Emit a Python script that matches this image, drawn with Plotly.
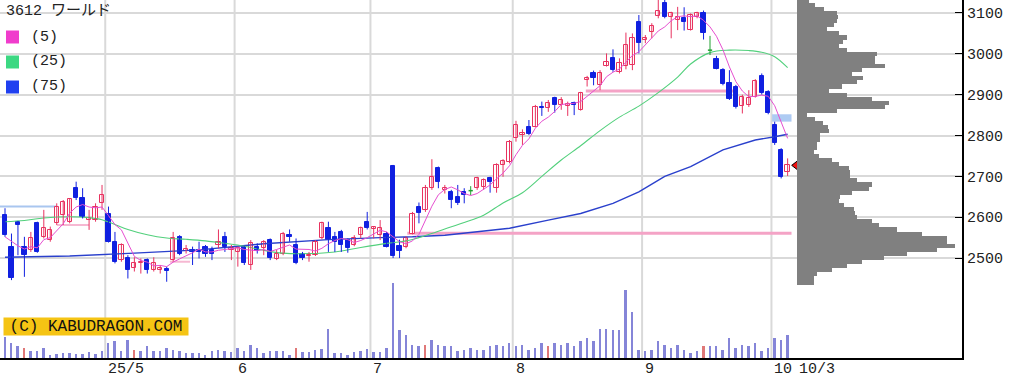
import plotly.graph_objects as go

# ---------------- data ----------------
title_text = "3612 ワールド"
ma_labels = ["(5)", "(25)", "(75)"]
month_start_idx = [16, 36, 57, 79, 99, 119]
month_labels = ["25/5", "6", "7", "8", "9", "10"]
last_label = "10/3"

opens = [2605, 2528, 2589, 2528, 2520, 2585, 2552, 2544, 2585, 2605,
         2589, 2671, 2646, 2593, 2593, 2634, 2609, 2540, 2495, 2499,
         2475, 2487, 2495, 2471, 2471, 2472, 2495, 2552, 2518, 2520,
         2520, 2526, 2520, 2532, 2552, 2520, 2516, 2528, 2483, 2528,
         2524, 2544, 2497, 2511, 2556, 2532, 2511, 2505, 2507, 2548,
         2573, 2552, 2564, 2544, 2532, 2556, 2589, 2570, 2556, 2560,
         2726, 2530, 2528, 2560, 2626, 2617, 2671, 2720, 2667, 2662,
         2650, 2662, 2665, 2671, 2673, 2695, 2671, 2728, 2736, 2793,
         2801, 2820, 2822, 2871, 2867, 2891, 2875, 2873, 2880, 2863,
         2936, 2954, 2924, 2969, 2989, 2956, 2969, 2973, 3079, 3035,
         3054, 3093, 3124, 3091, 3084, 3087, 3058, 3091, 3101, 3009,
         2987, 2960, 2928, 2920, 2873, 2874, 2895, 2946, 2907, 2826,
         2765, 2710]
highs = [2622, 2560, 2591, 2552, 2564, 2589, 2618, 2577, 2634, 2642,
         2646, 2687, 2671, 2618, 2634, 2679, 2626, 2564, 2536, 2507,
         2502, 2499, 2499, 2502, 2483, 2479, 2564, 2556, 2532, 2528,
         2540, 2532, 2528, 2570, 2564, 2532, 2528, 2529, 2544, 2536,
         2544, 2548, 2520, 2564, 2570, 2548, 2515, 2515, 2544, 2589,
         2589, 2564, 2569, 2548, 2556, 2577, 2613, 2578, 2593, 2564,
         2728, 2545, 2553, 2613, 2636, 2679, 2742, 2724, 2679, 2667,
         2679, 2671, 2676, 2699, 2695, 2699, 2732, 2742, 2789, 2836,
         2815, 2838, 2875, 2883, 2887, 2895, 2894, 2883, 2883, 2907,
         2946, 2959, 2960, 3001, 3011, 2989, 3052, 3050, 3095, 3046,
         3075, 3132, 3135, 3103, 3115, 3114, 3099, 3103, 3106, 3044,
         2995, 2965, 2960, 2924, 2900, 2911, 2938, 2952, 2911, 2834,
         2769, 2744]
lows = [2552, 2446, 2507, 2454, 2515, 2513, 2548, 2540, 2581, 2581,
        2585, 2642, 2597, 2569, 2589, 2618, 2538, 2487, 2491, 2450,
        2467, 2462, 2462, 2467, 2462, 2442, 2491, 2507, 2511, 2483,
        2499, 2503, 2495, 2524, 2515, 2495, 2479, 2483, 2471, 2511,
        2507, 2495, 2495, 2507, 2540, 2485, 2495, 2491, 2505, 2546,
        2515, 2515, 2515, 2513, 2529, 2548, 2570, 2548, 2544, 2526,
        2500, 2500, 2524, 2558, 2585, 2613, 2667, 2671, 2658, 2622,
        2630, 2634, 2654, 2667, 2667, 2660, 2660, 2699, 2732, 2785,
        2777, 2801, 2820, 2848, 2858, 2856, 2863, 2848, 2850, 2861,
        2920, 2923, 2911, 2969, 2956, 2952, 2962, 2960, 3001, 3026,
        3038, 3087, 3087, 3038, 3058, 3057, 3057, 3087, 3035, 2997,
        2962, 2923, 2887, 2866, 2854, 2870, 2893, 2900, 2852, 2777,
        2695, 2701]
closes = [2556, 2450, 2581, 2507, 2548, 2516, 2573, 2569, 2626, 2638,
          2644, 2646, 2601, 2597, 2626, 2654, 2540, 2491, 2532, 2471,
          2487, 2491, 2471, 2487, 2475, 2469, 2548, 2511, 2521, 2516,
          2516, 2511, 2511, 2540, 2528, 2524, 2524, 2487, 2536, 2518,
          2540, 2499, 2511, 2560, 2552, 2487, 2499, 2507, 2540, 2585,
          2544, 2540, 2532, 2524, 2548, 2573, 2573, 2575, 2573, 2528,
          2506, 2518, 2548, 2609, 2610, 2671, 2699, 2687, 2671, 2642,
          2634, 2654, 2665, 2697, 2691, 2687, 2728, 2738, 2785, 2826,
          2805, 2804, 2871, 2867, 2879, 2875, 2887, 2877, 2875, 2903,
          2940, 2942, 2952, 2981, 2960, 2978, 3022, 3038, 3026, 3040,
          3068, 3106, 3091, 3101, 3089, 3079, 3095, 3099, 3050, 3009,
          2964, 2926, 2890, 2871, 2895, 2891, 2934, 2905, 2854, 2781,
          2699, 2727]

ma5 = [2552, 2540, 2530, 2522, 2528, 2525, 2545, 2550, 2566, 2584,
       2610, 2625, 2631, 2625, 2623, 2625, 2604, 2582, 2569, 2538,
       2504, 2494, 2490, 2481, 2482, 2479, 2490, 2498, 2505, 2513,
       2522, 2515, 2515, 2519, 2521, 2523, 2525, 2521, 2520, 2518,
       2521, 2516, 2521, 2526, 2532, 2522, 2522, 2521, 2517, 2524,
       2535, 2543, 2548, 2545, 2538, 2543, 2550, 2559, 2568, 2564,
       2551, 2540, 2535, 2542, 2558, 2591, 2627, 2655, 2668, 2674,
       2667, 2658, 2653, 2658, 2668, 2679, 2694, 2708, 2726, 2753,
       2776, 2792, 2818, 2835, 2845, 2859, 2876, 2877, 2879, 2883,
       2896, 2907, 2922, 2944, 2955, 2963, 2979, 2996, 3005, 3021,
       3039, 3056, 3066, 3081, 3091, 3093, 3091, 3093, 3082, 3066,
       3043, 3010, 2968, 2932, 2909, 2895, 2896, 2899, 2896, 2873,
       2835, 2793]

ma25_idx = [0, 3, 6, 10, 13, 15, 17, 19, 22, 25, 28, 31, 34, 37, 40, 43, 47,
            51, 55, 59, 62, 65, 68, 71, 74, 77, 80, 83, 86, 89, 92, 95, 98,
            101, 104, 106, 109, 112, 115, 117, 119, 121]
ma25_val = [2589, 2592, 2598, 2601, 2599, 2594, 2582, 2570, 2557, 2549, 2546,
            2542, 2536, 2529, 2519, 2512, 2511, 2515, 2526, 2536, 2542, 2555,
            2571, 2587, 2605, 2635, 2660, 2700, 2740, 2775, 2812, 2845, 2872,
            2905, 2943, 2975, 3003, 3009, 3008, 3004, 2993, 2966]

ma75_idx = [0, 10, 20, 30, 40, 50, 58, 63, 68, 73, 78, 84, 89, 94, 98, 102,
            106, 111, 116, 119, 121]
ma75_val = [2502, 2505, 2512, 2520, 2535, 2545, 2550, 2552, 2556, 2564, 2573,
            2593, 2609, 2634, 2662, 2700, 2724, 2765, 2789, 2797, 2803]

volumes = [210, 150, 120, 100, 73, 73, 100, 33, 43, 50,
           50, 43, 43, 57, 43, 73, 150, 167, 73, 183,
           83, 73, 117, 73, 73, 100, 83, 73, 50, 50,
           50, 33, 73, 83, 73, 57, 100, 73, 133, 100,
           50, 73, 73, 73, 33, 100, 57, 57, 83, 90,
           290, 50, 50, 33, 57, 67, 90, 57, 57, 100,
           750, 277, 227, 130, 117, 130, 177, 130, 117, 117,
           67, 83, 100, 83, 83, 117, 130, 117, 150, 117,
           130, 83, 100, 150, 117, 150, 130, 150, 117, 167,
           197, 167, 290, 290, 277, 277, 683, 457, 83, 67,
           83, 167, 130, 100, 130, 83, 50, 67, 117, 117,
           117, 83, 197, 100, 130, 117, 150, 67, 100, 197,
           183, 233]
red_volume_days = [3, 20, 45, 65, 84, 108]

profile_price = [2440, 2450, 2460, 2470, 2480, 2490, 2500, 2510, 2520, 2530,
                 2540, 2550, 2560, 2570, 2580, 2590, 2600, 2610, 2620, 2630,
                 2640, 2650, 2660, 2670, 2680, 2690, 2700, 2710, 2720, 2730,
                 2740, 2750, 2760, 2770, 2780, 2790, 2800, 2810, 2820, 2830,
                 2840, 2850, 2860, 2870, 2880, 2890, 2900, 2910, 2920, 2930,
                 2940, 2950, 2960, 2970, 2980, 2990, 3000, 3010, 3020, 3030,
                 3040, 3050, 3060, 3070, 3080, 3090, 3100, 3110, 3120, 3130]
profile_volume = [17, 17, 20, 35, 50, 65, 87, 110, 140, 158,
                  150, 150, 125, 100, 82, 75, 60, 58, 57, 47,
                  42, 43, 55, 72, 75, 60, 53, 53, 52, 42,
                  35, 22, 17, 20, 20, 23, 23, 32, 31, 26,
                  18, 10, 40, 88, 92, 75, 50, 32, 45, 60,
                  66, 55, 65, 88, 78, 78, 80, 50, 42, 46,
                  50, 42, 30, 37, 40, 41, 40, 27, 18, 12]

# support / resistance levels: (price, from index, to index)
pink_levels = [2909, 2561]
pink_from = [89.8, 62.2]
pink_to = [112.8, 121.6]
faint_pink_levels = [2581, 2491]
faint_pink_from = [8.0, 25.5]
faint_pink_to = [13.0, 28.6]
blue_levels = [2626]
blue_from = [-0.8]
blue_to = [8.0]

# ---------------- styling ----------------
RED = "#e8325f"
BLUE = "#1020e0"
GREEN = "#20a030"
C5 = "#e64fd0"
C25 = "#52d07c"
C75 = "#2a40cc"
GRID = "#d9d9d9"
FONT = "Liberation Mono, DejaVu Sans Mono, Noto Sans CJK JP, monospace"

W, H = 1029, 377
L, R, T, B = 0, 67, 0, 19
PW, PH = W - L - R, H - T - B
N = len(closes)

fig = go.Figure()

# volume profile (right side)
fig.add_trace(go.Bar(
    y=profile_price, x=profile_volume, orientation="h", width=10,
    marker=dict(color="#808080", line=dict(width=0)),
    xaxis="x2", yaxis="y", hoverinfo="skip", showlegend=False))

# volume bars
vol_colors = ["#e07878" if i in red_volume_days else "#8585d8" for i in range(N)]
fig.add_trace(go.Bar(
    x=list(range(N)), y=volumes, width=0.3,
    marker=dict(color=vol_colors, line=dict(width=0)),
    yaxis="y2", hoverinfo="skip", showlegend=False))

# moving averages
fig.add_trace(go.Scatter(x=ma75_idx, y=ma75_val, mode="lines",
                         line=dict(color=C75, width=1.4), hoverinfo="skip", showlegend=False))
fig.add_trace(go.Scatter(x=ma25_idx, y=ma25_val, mode="lines", line_shape="spline",
                         line=dict(color=C25, width=1.1), hoverinfo="skip", showlegend=False))

# wicks
def wick_trace(idx, color):
    xs, ys = [], []
    for i in idx:
        xs += [i, i, None]
        ys += [lows[i], highs[i], None]
    return go.Scatter(x=xs, y=ys, mode="lines", line=dict(color=color, width=1),
                      hoverinfo="skip", showlegend=False)

up = [i for i in range(N) if closes[i] > opens[i]]
dn = [i for i in range(N) if closes[i] < opens[i]]
dj = [i for i in range(N) if closes[i] == opens[i]]

fig.add_trace(wick_trace(up, RED))
fig.add_trace(wick_trace(dn, BLUE))
fig.add_trace(wick_trace(dj, GREEN))

BW = 0.66
fig.add_trace(go.Bar(
    x=up, base=[opens[i] for i in up], y=[closes[i] - opens[i] for i in up],
    width=BW, marker=dict(color="white", line=dict(color=RED, width=1)),
    hoverinfo="skip", showlegend=False))
fig.add_trace(go.Bar(
    x=dn, base=[closes[i] for i in dn], y=[opens[i] - closes[i] for i in dn],
    width=BW, marker=dict(color=BLUE, line=dict(color=BLUE, width=1)),
    hoverinfo="skip", showlegend=False))
dx, dy = [], []
for i in dj:
    dx += [i - BW / 2, i + BW / 2, None]
    dy += [opens[i], opens[i], None]
fig.add_trace(go.Scatter(x=dx, y=dy, mode="lines", line=dict(color=GREEN, width=1.5),
                         hoverinfo="skip", showlegend=False))

# 5-day MA on top
fig.add_trace(go.Scatter(x=list(range(N)), y=ma5, mode="lines",
                         line=dict(color=C5, width=1), hoverinfo="skip", showlegend=False))

# current price marker
fig.add_trace(go.Scatter(x=[N + 0.4], y=[closes[-1]], mode="markers",
                         marker=dict(symbol="triangle-left", size=10, color="#f01010",
                                     line=dict(color="black", width=1)),
                         hoverinfo="skip", showlegend=False))

shapes = []
# white boxes behind title / legend
shapes.append(dict(type="rect", xref="paper", yref="paper", x0=0, x1=137 / PW,
                   y0=1 - 24 / PH, y1=1, fillcolor="white", line=dict(width=0), layer="below"))
shapes.append(dict(type="rect", xref="paper", yref="paper", x0=0, x1=73 / PW,
                   y0=1 - 92 / PH, y1=1 - 24 / PH, fillcolor="white", line=dict(width=0), layer="below"))
# vertical month grid lines
for m in month_start_idx:
    shapes.append(dict(type="line", xref="x", yref="paper", x0=m - 0.5, x1=m - 0.5,
                       y0=0, y1=1, line=dict(color=GRID, width=2), layer="below"))
# level lines
for lv, a, b in zip(pink_levels, pink_from, pink_to):
    shapes.append(dict(type="line", xref="x", yref="y", x0=a, x1=b, y0=lv, y1=lv,
                       line=dict(color="#f4a3c6", width=3), layer="below"))
for lv, a, b in zip(faint_pink_levels, faint_pink_from, faint_pink_to):
    shapes.append(dict(type="line", xref="x", yref="y", x0=a, x1=b, y0=lv, y1=lv,
                       line=dict(color="#f6b8d2", width=2), layer="below"))
for lv, a, b in zip(blue_levels, blue_from, blue_to):
    shapes.append(dict(type="line", xref="x", yref="y", x0=a, x1=b, y0=lv, y1=lv,
                       line=dict(color="#a9c6ef", width=2), layer="below"))
# price gap (window)
shapes.append(dict(type="rect", xref="x", yref="y", x0=N - 3.4, x1=N - 0.4,
                   y0=highs[N - 3], y1=lows[N - 4], fillcolor="#aecbf3",
                   line=dict(width=0), layer="below"))
# legend squares
legend_colors = ["#f03ccc", "#3cd882", "#2040f0"]
for k, col in enumerate(legend_colors):
    yc = 37 + 25 * k
    shapes.append(dict(type="rect", xref="paper", yref="paper",
                       x0=6 / PW, x1=19 / PW, y0=1 - (yc + 6.5) / PH, y1=1 - (yc - 6.5) / PH,
                       fillcolor=col, line=dict(width=0), layer="above"))

annotations = []
annotations.append(dict(text=title_text, xref="paper", yref="paper", x=4 / PW, y=1 - 12 / PH,
                        xanchor="left", yanchor="middle", showarrow=False,
                        font=dict(family=FONT, size=15, color="#222")))
for k, lab in enumerate(ma_labels):
    yc = 37 + 25 * k
    annotations.append(dict(text=lab, xref="paper", yref="paper", x=29 / PW, y=1 - yc / PH,
                            xanchor="left", yanchor="middle", showarrow=False,
                            font=dict(family=FONT, size=15, color="#222")))
for m, lab in zip(month_start_idx, month_labels):
    annotations.append(dict(text=lab, xref="x", yref="paper", x=m - 0.5, y=0,
                            xanchor="left", yanchor="top", xshift=1, yshift=-1,
                            showarrow=False, font=dict(family=FONT, size=15, color="#222")))
annotations.append(dict(text=last_label, xref="x", yref="paper", x=N + 0.5, y=0,
                        xanchor="left", yanchor="top", xshift=0, yshift=-1,
                        showarrow=False, font=dict(family=FONT, size=15, color="#222")))
annotations.append(dict(text="(C) KABUDRAGON.COM", xref="paper", yref="paper",
                        x=3 / PW, y=1 - 326.5 / PH, xanchor="left", yanchor="middle",
                        width=184, height=17, bgcolor="#f5c414", borderpad=0,
                        showarrow=False, font=dict(family=FONT, size=16, color="#111")))

px_per_unit = 6.468
x0_px = 5
fig.update_layout(
    width=W, height=H, margin=dict(l=L, r=R, t=T, b=B, pad=0),
    paper_bgcolor="white", plot_bgcolor="white",
    barmode="overlay", bargap=0, showlegend=False,
    xaxis=dict(range=[-x0_px / px_per_unit, (PW - x0_px) / px_per_unit],
               showgrid=False, zeroline=False, showticklabels=False, ticks="",
               showline=True, linecolor="black", linewidth=2, fixedrange=True),
    xaxis2=dict(overlaying="x", range=[-797, PW - 797], visible=False, fixedrange=True),
    yaxis=dict(side="right", range=[2255.3, 3131.8],
               tickvals=[2500, 2600, 2700, 2800, 2900, 3000, 3100],
               showgrid=True, gridcolor=GRID, gridwidth=2, zeroline=False,
               ticks="inside", ticklen=7, tickcolor="black", tickwidth=1,
               showline=True, linecolor="black", linewidth=2,
               tickfont=dict(family=FONT, size=15, color="#222"), fixedrange=True),
    yaxis2=dict(overlaying="y", range=[0, 3580], visible=False, fixedrange=True),
    shapes=shapes, annotations=annotations,
)

fig.write_html("out.html")
